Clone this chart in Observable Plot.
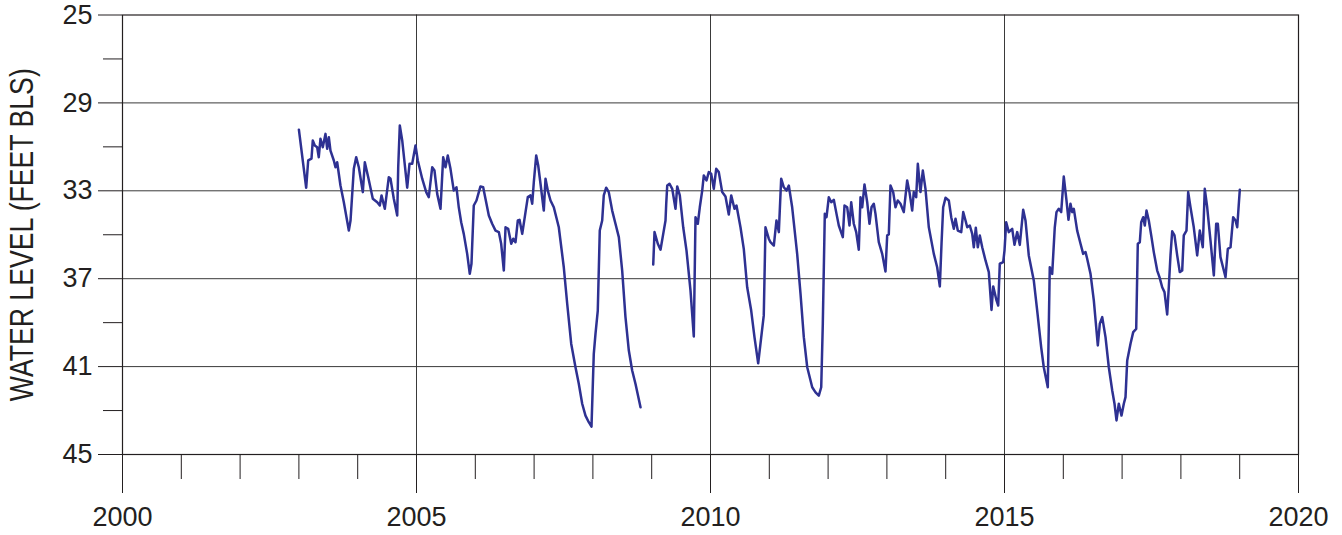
<!DOCTYPE html>
<html>
<head>
<meta charset="utf-8">
<script src="https://cdn.jsdelivr.net/npm/d3@7"></script>
<script src="https://cdn.jsdelivr.net/npm/@observablehq/plot@0.6"></script>
<style>
  html, body { margin: 0; padding: 0; background: #ffffff; }
</style>
</head>
<body>
<div id="chart"></div>
<script>
// ---- data: water level (feet below land surface), two continuous record segments ----
const years1 = [2003.000, 2003.124, 2003.158, 2003.214, 2003.236, 2003.270, 2003.311, 2003.338, 2003.367, 2003.406, 2003.452, 2003.481, 2003.509, 2003.537, 2003.594, 2003.622, 2003.651, 2003.707, 2003.764, 2003.849, 2003.878, 2003.934, 2003.974, 2004.019, 2004.087, 2004.121, 2004.179, 2004.257, 2004.332, 2004.376, 2004.405, 2004.461, 2004.529, 2004.558, 2004.614, 2004.672, 2004.689, 2004.716, 2004.757, 2004.842, 2004.881, 2004.927, 2004.983, 2005.022, 2005.097, 2005.165, 2005.209, 2005.267, 2005.306, 2005.352, 2005.408, 2005.454, 2005.493, 2005.532, 2005.578, 2005.634, 2005.680, 2005.719, 2005.760, 2005.804, 2005.862, 2005.906, 2005.935, 2005.974, 2006.020, 2006.060, 2006.088, 2006.134, 2006.173, 2006.230, 2006.287, 2006.344, 2006.400, 2006.440, 2006.485, 2006.514, 2006.559, 2006.611, 2006.645, 2006.684, 2006.723, 2006.752, 2006.798, 2006.854, 2006.893, 2006.939, 2006.968, 2006.995, 2007.036, 2007.070, 2007.109, 2007.165, 2007.194, 2007.233, 2007.279, 2007.335, 2007.420, 2007.505, 2007.563, 2007.631, 2007.704, 2007.760, 2007.818, 2007.874, 2007.930, 2007.976, 2008.015, 2008.044, 2008.083, 2008.117, 2008.158, 2008.185, 2008.226, 2008.270, 2008.328, 2008.384, 2008.441, 2008.498, 2008.554, 2008.611, 2008.668, 2008.724, 2008.810];
const levels1 = [30.22, 32.86, 31.62, 31.54, 30.71, 30.94, 31.02, 31.47, 30.63, 31.02, 30.41, 31.09, 30.56, 31.17, 31.62, 31.93, 31.70, 32.76, 33.52, 34.81, 34.35, 32.00, 31.47, 31.93, 33.06, 31.70, 32.38, 33.36, 33.52, 33.67, 33.21, 33.82, 32.38, 32.45, 33.36, 34.12, 31.93, 30.03, 30.71, 32.86, 31.77, 31.77, 30.94, 31.62, 32.45, 33.06, 33.29, 31.93, 32.08, 33.14, 33.82, 31.47, 31.93, 31.39, 32.00, 32.99, 32.84, 33.75, 34.43, 34.96, 35.87, 36.78, 36.32, 33.67, 33.44, 33.06, 32.80, 32.84, 33.36, 34.12, 34.50, 34.81, 34.88, 35.41, 36.63, 34.66, 34.73, 35.41, 35.18, 35.34, 34.35, 34.32, 34.96, 33.97, 33.29, 33.21, 33.59, 32.61, 31.39, 31.85, 32.68, 33.90, 32.45, 32.99, 33.44, 33.75, 34.66, 36.48, 38.14, 39.96, 41.03, 41.78, 42.69, 43.23, 43.53, 43.73, 40.42, 39.51, 38.45, 34.81, 34.35, 33.21, 32.86, 33.06, 33.90, 34.50, 35.11, 36.63, 38.75, 40.27, 41.18, 41.78, 42.85];

const years2 = [2009.026, 2009.048, 2009.104, 2009.150, 2009.196, 2009.235, 2009.247, 2009.264, 2009.303, 2009.349, 2009.405, 2009.434, 2009.478, 2009.536, 2009.592, 2009.660, 2009.716, 2009.745, 2009.784, 2009.818, 2009.859, 2009.886, 2009.932, 2009.971, 2010.012, 2010.056, 2010.097, 2010.141, 2010.199, 2010.255, 2010.311, 2010.352, 2010.408, 2010.442, 2010.510, 2010.566, 2010.624, 2010.692, 2010.748, 2010.811, 2010.850, 2010.906, 2010.935, 2010.991, 2011.020, 2011.077, 2011.122, 2011.162, 2011.202, 2011.247, 2011.293, 2011.332, 2011.389, 2011.474, 2011.531, 2011.587, 2011.645, 2011.730, 2011.786, 2011.842, 2011.883, 2011.910, 2011.944, 2011.973, 2012.012, 2012.053, 2012.097, 2012.143, 2012.182, 2012.250, 2012.279, 2012.325, 2012.364, 2012.393, 2012.437, 2012.478, 2012.522, 2012.551, 2012.580, 2012.619, 2012.665, 2012.704, 2012.738, 2012.777, 2012.806, 2012.862, 2012.920, 2012.976, 2013.005, 2013.032, 2013.061, 2013.107, 2013.146, 2013.185, 2013.231, 2013.287, 2013.345, 2013.384, 2013.430, 2013.457, 2013.498, 2013.526, 2013.571, 2013.611, 2013.656, 2013.713, 2013.798, 2013.855, 2013.900, 2013.929, 2013.957, 2013.997, 2014.053, 2014.094, 2014.138, 2014.167, 2014.206, 2014.264, 2014.298, 2014.337, 2014.366, 2014.410, 2014.451, 2014.478, 2014.512, 2014.546, 2014.580, 2014.621, 2014.677, 2014.733, 2014.779, 2014.808, 2014.864, 2014.893, 2014.920, 2014.978, 2015.000, 2015.029, 2015.073, 2015.131, 2015.170, 2015.216, 2015.260, 2015.318, 2015.357, 2015.413, 2015.498, 2015.556, 2015.624, 2015.668, 2015.736, 2015.770, 2015.811, 2015.855, 2015.884, 2015.923, 2015.964, 2016.008, 2016.054, 2016.088, 2016.122, 2016.151, 2016.179, 2016.236, 2016.293, 2016.338, 2016.378, 2016.406, 2016.463, 2016.519, 2016.587, 2016.621, 2016.662, 2016.718, 2016.774, 2016.832, 2016.871, 2016.905, 2016.944, 2016.990, 2017.029, 2017.058, 2017.087, 2017.143, 2017.189, 2017.240, 2017.267, 2017.301, 2017.325, 2017.359, 2017.386, 2017.415, 2017.454, 2017.500, 2017.539, 2017.597, 2017.636, 2017.682, 2017.721, 2017.767, 2017.794, 2017.823, 2017.852, 2017.891, 2017.937, 2017.981, 2018.022, 2018.049, 2018.095, 2018.124, 2018.163, 2018.219, 2018.277, 2018.321, 2018.372, 2018.406, 2018.447, 2018.503, 2018.560, 2018.600, 2018.628, 2018.673, 2018.730, 2018.759, 2018.798, 2018.844, 2018.889, 2018.929, 2018.958, 2018.985, 2019.002];
const levels2 = [36.35, 34.88, 35.41, 35.68, 34.96, 34.35, 33.59, 32.76, 32.68, 32.91, 33.82, 32.80, 33.21, 34.66, 35.72, 37.54, 39.63, 34.20, 34.50, 33.75, 32.99, 32.30, 32.53, 32.15, 32.23, 32.91, 32.00, 32.15, 33.06, 33.26, 34.08, 33.21, 33.82, 33.67, 34.66, 35.64, 37.39, 38.45, 39.66, 40.85, 39.95, 38.67, 34.66, 35.18, 35.34, 35.49, 34.35, 34.88, 32.45, 32.84, 32.99, 32.76, 33.75, 35.87, 37.69, 39.66, 41.03, 41.94, 42.17, 42.32, 41.94, 39.05, 34.05, 34.20, 33.29, 33.52, 33.41, 34.05, 34.58, 35.11, 33.67, 33.75, 34.58, 33.52, 34.50, 34.88, 35.68, 33.29, 33.75, 32.71, 33.52, 34.50, 33.75, 33.59, 34.05, 35.34, 35.87, 36.67, 35.03, 34.99, 32.76, 33.06, 33.75, 33.44, 33.59, 33.97, 32.53, 33.06, 33.90, 33.06, 33.29, 31.77, 33.06, 32.08, 32.91, 34.66, 35.87, 36.48, 37.35, 35.41, 33.75, 33.32, 33.44, 34.20, 34.73, 34.27, 34.81, 34.88, 33.97, 34.35, 34.66, 34.58, 34.96, 35.57, 34.68, 35.57, 35.03, 35.57, 36.17, 36.70, 38.42, 37.35, 37.99, 38.22, 36.32, 36.25, 35.72, 34.43, 34.88, 34.73, 35.46, 34.88, 35.46, 33.86, 34.35, 35.94, 37.08, 38.45, 40.12, 41.03, 41.94, 36.48, 36.78, 34.66, 33.97, 33.82, 33.97, 32.35, 33.44, 34.32, 33.59, 33.97, 33.82, 34.81, 35.41, 35.87, 35.79, 36.09, 36.78, 37.99, 40.04, 39.05, 38.75, 39.66, 41.03, 42.09, 42.69, 43.45, 42.69, 43.23, 42.69, 42.39, 40.72, 39.96, 39.43, 39.28, 35.41, 35.34, 34.43, 34.20, 34.58, 33.90, 34.35, 35.11, 35.79, 36.63, 36.93, 37.39, 37.61, 38.63, 37.39, 35.94, 34.84, 35.03, 35.94, 36.70, 36.63, 35.03, 34.81, 33.06, 33.75, 34.66, 35.94, 34.81, 35.57, 32.91, 33.75, 35.26, 36.85, 34.50, 34.50, 36.02, 36.63, 36.93, 35.64, 35.57, 34.20, 34.35, 34.66, 33.59, 32.95];

// ---- ticks / labels ----
const xLabelTicks = [2000, 2005, 2010, 2015, 2020];
const xMinorTicks = [2001, 2002, 2003, 2004, 2006, 2007, 2008, 2009, 2011, 2012, 2013, 2014, 2016, 2017, 2018, 2019];
const xGridLines = [2005, 2010, 2015];
const yLabelTicks = [25, 29, 33, 37, 41, 45];
const yMinorTicks = [27, 31, 35, 39, 43];
const yGridLines = [29, 33, 37, 41];
const yTitle = "WATER LEVEL (FEET BLS)";

const seg1 = years1.map((t, i) => ({t, v: levels1[i]}));
const seg2 = years2.map((t, i) => ({t, v: levels2[i]}));

const ink = "#231f20";
const chart = Plot.plot({
  width: 1342,
  height: 535,
  marginLeft: 122,
  marginRight: 44,
  marginTop: 14.5,
  marginBottom: 81,
  style: {
    fontFamily: '"Liberation Sans", Arial, Helvetica, sans-serif',
    fontSize: "27px",
    color: ink,
    background: "#ffffff",
    overflow: "visible"
  },
  x: {domain: [2000, 2020], axis: null, label: null},
  y: {domain: [25, 45], reverse: true, axis: null, label: null},
  marks: [
    Plot.ruleX(xGridLines, {stroke: "#3a3a3a", strokeWidth: 1}),
    Plot.ruleY(yGridLines, {stroke: "#3a3a3a", strokeWidth: 1}),
    Plot.axisX(xMinorTicks, {tickSize: 25, tickFormat: () => "", label: null, stroke: ink, strokeWidth: 1}),
    Plot.axisX(xLabelTicks, {tickSize: 39, tickPadding: 13, tickFormat: d => String(d), label: null, stroke: ink, strokeWidth: 1}),
    Plot.axisY(yMinorTicks, {tickSize: 19, tickFormat: () => "", label: null, stroke: ink, strokeWidth: 1}),
    Plot.axisY(yLabelTicks, {tickSize: 24, tickPadding: 6, tickFormat: d => String(d), label: null, stroke: ink, strokeWidth: 1}),
    Plot.frame({stroke: ink, strokeWidth: 1.2}),
    Plot.line(seg1, {x: "t", y: "v", stroke: "#2e3192", strokeWidth: 2.5, curve: "linear", strokeLinejoin: "round"}),
    Plot.line(seg2, {x: "t", y: "v", stroke: "#2e3192", strokeWidth: 2.5, curve: "linear", strokeLinejoin: "round"}),
    Plot.text([yTitle], {text: d => d, frameAnchor: "left", dx: -100, rotate: -90, textAnchor: "middle", lineAnchor: "middle", fontSize: 32.5, fill: ink})
  ]
});
// the reference title uses a narrow (condensed) sans face: compress it along its baseline
d3.select(chart).selectAll("g[aria-label='text'] text").attr("transform", function() {
  return (this.getAttribute("transform") || "") + " scale(0.82,1)";
});
document.getElementById("chart").appendChild(chart);
</script>
</body>
</html>
